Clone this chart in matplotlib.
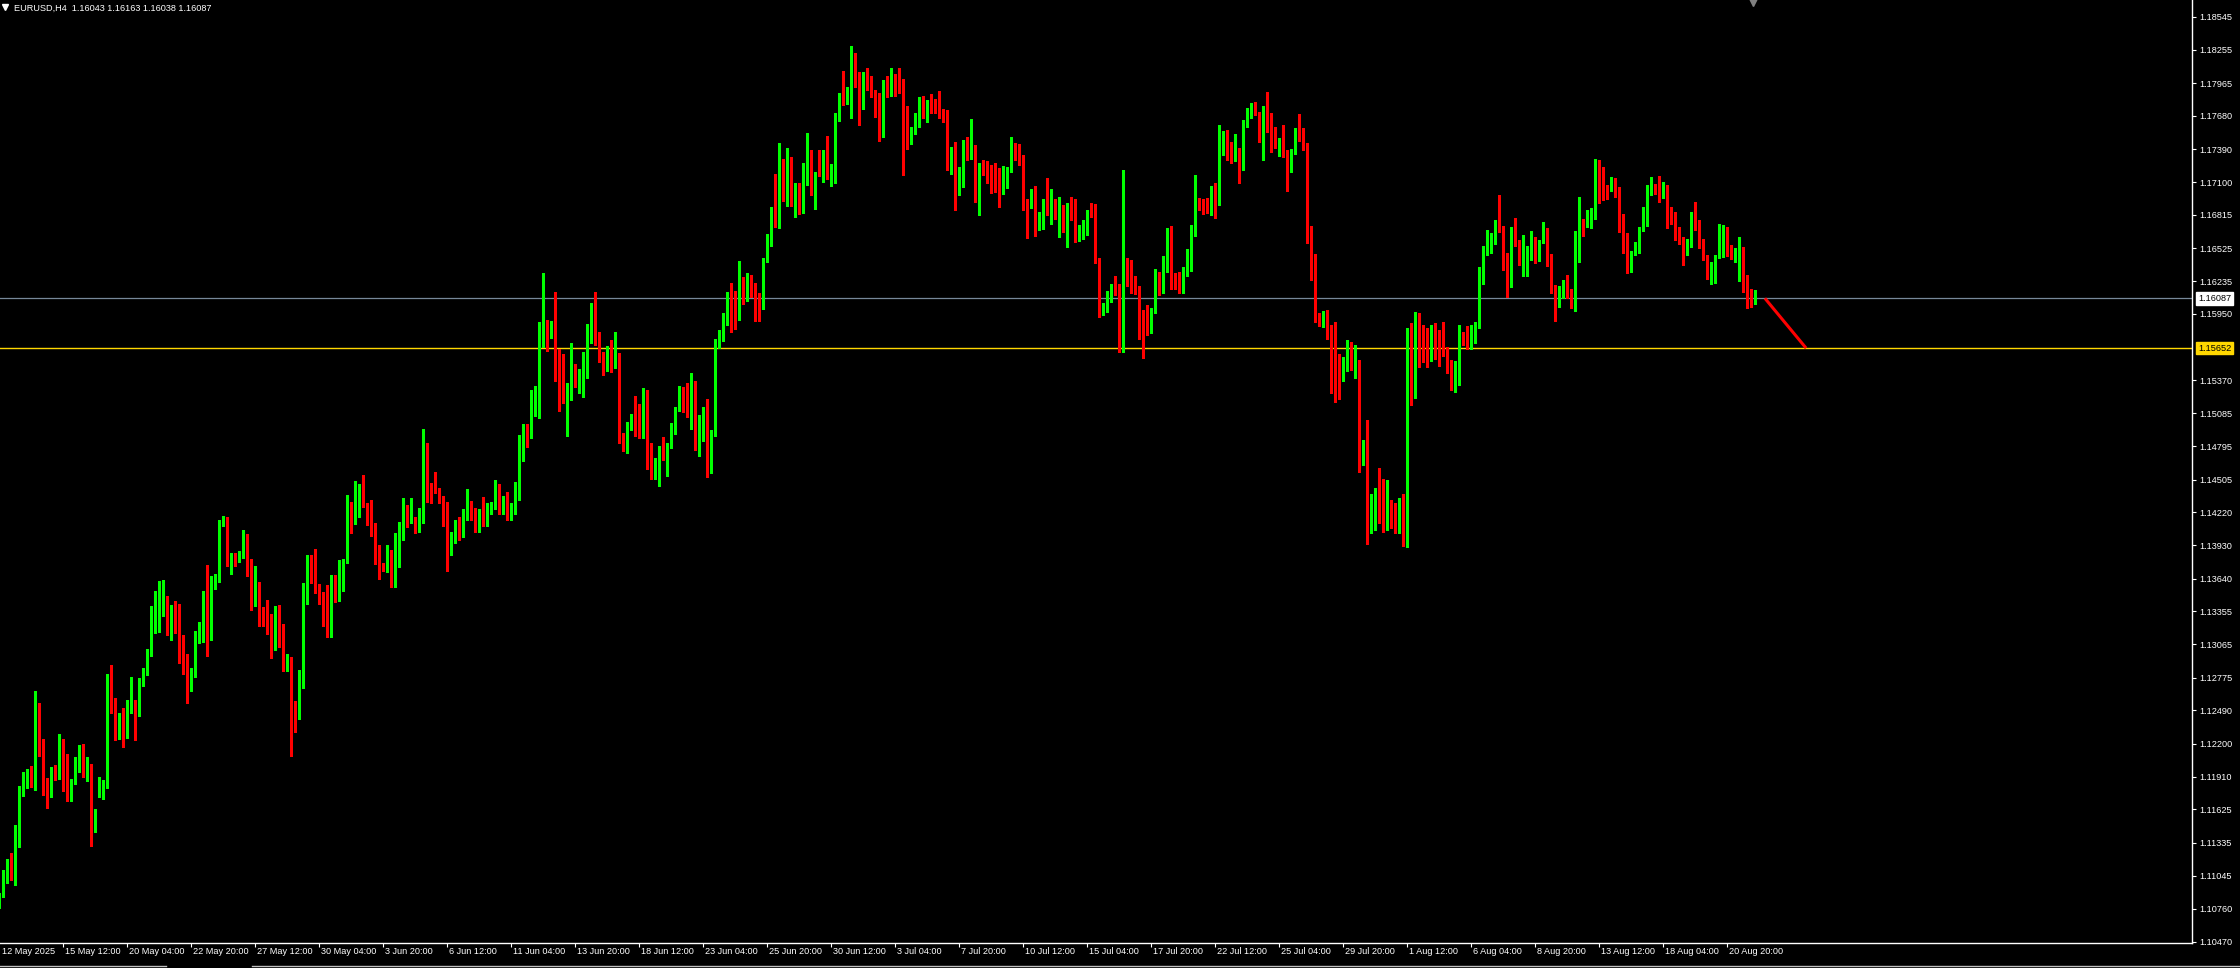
import numpy as np
import matplotlib
matplotlib.use("Agg")
import matplotlib.pyplot as plt
from matplotlib.transforms import blended_transform_factory, ScaledTranslation
from matplotlib.lines import Line2D

symbol = "EURUSD,H4"

opens = [
    1.10782, 1.10878, 1.11062, 1.11105, 1.11062, 1.11353, 1.11760, 1.11844, 1.11882, 1.11853,
    1.12528, 1.12196, 1.11891, 1.11743, 1.11946, 1.11926, 1.12034, 1.12013, 1.11708, 1.11853,
    1.12022, 1.12150, 1.11935, 1.12004, 1.11446, 1.11743, 1.11751, 1.11839, 1.12799, 1.12514,
    1.12290, 1.12426, 1.12377, 1.12537, 1.12557, 1.12450, 1.12726, 1.12805, 1.12971, 1.13314,
    1.13343, 1.13360, 1.13483, 1.13279, 1.13375, 1.13343, 1.12950, 1.12825, 1.12674, 1.12790,
    1.13133, 1.13206, 1.13497, 1.13139, 1.13593, 1.13663, 1.14123, 1.14172, 1.13788, 1.13823,
    1.13797, 1.13823, 1.13954, 1.13785, 1.13483, 1.13585, 1.13331, 1.13288, 1.13168, 1.13133,
    1.13343, 1.13099, 1.12918, 1.12924, 1.12508, 1.12426, 1.12778, 1.13512, 1.13768, 1.13672,
    1.13550, 1.13518, 1.13256, 1.13163, 1.13576, 1.13483, 1.13698, 1.13780, 1.14233, 1.14204,
    1.14213, 1.14396, 1.14283, 1.14222, 1.14123, 1.13876, 1.13774, 1.13715, 1.13855, 1.13614,
    1.13826, 1.13983, 1.14245, 1.14152, 1.14161, 1.14059, 1.14181, 1.14807, 1.14428, 1.14428,
    1.14420, 1.14350, 1.14196, 1.13899, 1.14000, 1.14100, 1.14020, 1.14200, 1.14300, 1.14200,
    1.14100, 1.14220, 1.14150, 1.14250, 1.14300, 1.14420, 1.14250, 1.14300, 1.14200, 1.14250,
    1.14355, 1.14690, 1.14972, 1.14873, 1.15176, 1.15272, 1.15717, 1.15854, 1.15746, 1.15868,
    1.15478, 1.15292, 1.15219, 1.15219, 1.15484, 1.15286, 1.15315, 1.15557, 1.15839, 1.16008,
    1.15775, 1.15600, 1.15534, 1.15571, 1.15557, 1.15583, 1.14856, 1.14800, 1.14960, 1.15039,
    1.15033, 1.14873, 1.14937, 1.14812, 1.14524, 1.14553, 1.14754, 1.14719, 1.14786, 1.14908,
    1.15120, 1.15272, 1.15272, 1.15176, 1.15321, 1.14783, 1.14917, 1.15132, 1.14710, 1.14885,
    1.15688, 1.15731, 1.15903, 1.16107, 1.16092, 1.15906, 1.16255, 1.16081, 1.16281, 1.16188,
    1.16014, 1.15993, 1.16412, 1.16546, 1.16858, 1.16837, 1.17250, 1.17163, 1.17242, 1.16954,
    1.17012, 1.16878, 1.17085, 1.17274, 1.17009, 1.17274, 1.17192, 1.17256, 1.17184, 1.17201,
    1.17643, 1.17818, 1.17795, 1.17847, 1.18132, 1.18016, 1.17818, 1.18027, 1.17928, 1.17870,
    1.17783, 1.17591, 1.17949, 1.17940, 1.18036, 1.17958, 1.17926, 1.17731, 1.17533, 1.17556,
    1.17585, 1.17832, 1.17771, 1.17789, 1.17748, 1.17789, 1.17716, 1.17701, 1.17329, 1.17346,
    1.17053, 1.17067, 1.17381, 1.17338, 1.17416, 1.16895, 1.17242, 1.17207, 1.17164, 1.17149,
    1.17129, 1.17024, 1.17068, 1.17199, 1.17408, 1.17382, 1.17312, 1.16931, 1.16878, 1.17012,
    1.16736, 1.16771, 1.16945, 1.16873, 1.16931, 1.16675, 1.16844, 1.16683, 1.16910, 1.16814,
    1.16617, 1.16625, 1.16683, 1.16849, 1.16849, 1.16430, 1.15962, 1.15979, 1.16131, 1.16195,
    1.16151, 1.15729, 1.16413, 1.16358, 1.16270, 1.16168, 1.15904, 1.15854, 1.15840, 1.15962,
    1.16282, 1.16166, 1.16328, 1.16683, 1.16267, 1.16218, 1.16160, 1.16328, 1.16442, 1.16640,
    1.16902, 1.16910, 1.16878, 1.16858, 1.17053, 1.17033, 1.17446, 1.17490, 1.17367, 1.17295,
    1.17359, 1.17251, 1.17586, 1.17679, 1.17746, 1.17708, 1.17513, 1.17711, 1.17693, 1.17460,
    1.17420, 1.17460, 1.17347, 1.17216, 1.17359, 1.17556, 1.17519, 1.17396, 1.16663, 1.16334,
    1.15918, 1.15874, 1.15906, 1.15787, 1.15767, 1.15455, 1.15409, 1.15461, 1.15636, 1.15484,
    1.15513, 1.14684, 1.14798, 1.14044, 1.14303, 1.14361, 1.14326, 1.14099, 1.14195, 1.14160,
    1.14058, 1.14312, 1.14006, 1.15694, 1.15257, 1.15889, 1.15714, 1.15694, 1.15642, 1.15758,
    1.15729, 1.15674, 1.15636, 1.15481, 1.15412, 1.15441, 1.15775, 1.15738, 1.15659, 1.15775,
    1.15834, 1.16343, 1.16480, 1.16561, 1.16567, 1.16753, 1.16707, 1.16430, 1.16325, 1.16654,
    1.16567, 1.16392, 1.16398, 1.16474, 1.16587, 1.16421, 1.16581, 1.16689, 1.16413, 1.16194,
    1.16101, 1.16159, 1.16189, 1.16130, 1.16058, 1.16509, 1.16727, 1.16718, 1.16765, 1.16785,
    1.17280, 1.17044, 1.17044, 1.17032, 1.17120, 1.17009, 1.16814, 1.16500, 1.16363, 1.16485,
    1.16517, 1.16704, 1.16867, 1.17018, 1.17041, 1.17129, 1.17027, 1.17053, 1.16797, 1.16779,
    1.16625, 1.16602, 1.16474, 1.16547, 1.16794, 1.16762, 1.16544, 1.16445, 1.16267, 1.16378,
    1.16445, 1.16581, 1.16707, 1.16500, 1.16450, 1.16485, 1.16532, 1.16203, 1.16145, 1.16043,
]

highs = [
    1.10893, 1.11096, 1.11190, 1.11242, 1.11489, 1.11830, 1.11955, 1.11975, 1.12004, 1.12659,
    1.12551, 1.12237, 1.11903, 1.11999, 1.12013, 1.12284, 1.12240, 1.12109, 1.11888, 1.12086,
    1.12188, 1.12196, 1.12086, 1.12022, 1.11626, 1.11911, 1.11882, 1.12805, 1.12886, 1.12595,
    1.12464, 1.12508, 1.12581, 1.12778, 1.12581, 1.12776, 1.12857, 1.13023, 1.13401, 1.13532,
    1.13619, 1.13628, 1.13489, 1.13410, 1.13445, 1.13419, 1.13148, 1.12982, 1.12857, 1.13186,
    1.13264, 1.13535, 1.13759, 1.13666, 1.13681, 1.14152, 1.14187, 1.14181, 1.13867, 1.13861,
    1.13881, 1.14065, 1.14027, 1.13814, 1.13750, 1.13614, 1.13390, 1.13454, 1.13331, 1.13401,
    1.13410, 1.13244, 1.12982, 1.12959, 1.12572, 1.12842, 1.13599, 1.13846, 1.13846, 1.13896,
    1.13593, 1.13526, 1.13585, 1.13672, 1.13672, 1.13803, 1.13809, 1.14370, 1.14312, 1.14492,
    1.14466, 1.14545, 1.14303, 1.14327, 1.14129, 1.13934, 1.13780, 1.13934, 1.13890, 1.14041,
    1.14137, 1.14341, 1.14283, 1.14341, 1.14181, 1.14254, 1.14946, 1.14827, 1.14472, 1.14574,
    1.14434, 1.14362, 1.14312, 1.14050, 1.14150, 1.14180, 1.14250, 1.14420, 1.14320, 1.14260,
    1.14250, 1.14350, 1.14300, 1.14310, 1.14500, 1.14470, 1.14360, 1.14400, 1.14300, 1.14480,
    1.14893, 1.14989, 1.14989, 1.15286, 1.15321, 1.15880, 1.16308, 1.15897, 1.15891, 1.16142,
    1.15641, 1.15600, 1.15344, 1.15694, 1.15513, 1.15467, 1.15621, 1.15862, 1.16043, 1.16142,
    1.15795, 1.15621, 1.15670, 1.15723, 1.15793, 1.15612, 1.14908, 1.15010, 1.15077, 1.15234,
    1.15164, 1.15301, 1.15286, 1.14821, 1.14690, 1.14797, 1.14873, 1.14821, 1.14995, 1.15141,
    1.15321, 1.15309, 1.15344, 1.15432, 1.15365, 1.15068, 1.15141, 1.15211, 1.14937, 1.15729,
    1.15810, 1.15955, 1.16145, 1.16223, 1.16150, 1.16415, 1.16270, 1.16311, 1.16290, 1.16217,
    1.16136, 1.16441, 1.16648, 1.16887, 1.17172, 1.17445, 1.17303, 1.17402, 1.17323, 1.17090,
    1.17096, 1.17265, 1.17527, 1.17381, 1.17192, 1.17381, 1.17381, 1.17504, 1.17256, 1.17707,
    1.17882, 1.18071, 1.17928, 1.18289, 1.18225, 1.18065, 1.18059, 1.18094, 1.18027, 1.17905,
    1.17876, 1.17992, 1.18027, 1.18094, 1.18045, 1.18094, 1.17998, 1.17766, 1.17585, 1.17701,
    1.17847, 1.17853, 1.17818, 1.17867, 1.17824, 1.17896, 1.17742, 1.17731, 1.17410, 1.17451,
    1.17230, 1.17469, 1.17492, 1.17652, 1.17425, 1.17265, 1.17294, 1.17289, 1.17251, 1.17265,
    1.17228, 1.17242, 1.17236, 1.17498, 1.17446, 1.17434, 1.17335, 1.16951, 1.17044, 1.17068,
    1.16838, 1.16951, 1.17137, 1.17039, 1.16954, 1.16974, 1.16902, 1.16922, 1.16974, 1.16954,
    1.16727, 1.16771, 1.16858, 1.16922, 1.16910, 1.16436, 1.16049, 1.16154, 1.16212, 1.16282,
    1.16212, 1.17207, 1.16436, 1.16422, 1.16282, 1.16195, 1.15985, 1.16029, 1.16000, 1.16340,
    1.16320, 1.16457, 1.16698, 1.16718, 1.16311, 1.16320, 1.16358, 1.16515, 1.16727, 1.17164,
    1.16960, 1.16954, 1.16960, 1.17068, 1.17091, 1.17600, 1.17551, 1.17556, 1.17455, 1.17519,
    1.17396, 1.17644, 1.17746, 1.17789, 1.17798, 1.17717, 1.17769, 1.17885, 1.17708, 1.17586,
    1.17484, 1.17600, 1.17382, 1.17391, 1.17571, 1.17696, 1.17571, 1.17440, 1.16721, 1.16474,
    1.15956, 1.15976, 1.15985, 1.15854, 1.15883, 1.15601, 1.15577, 1.15723, 1.15708, 1.15679,
    1.15548, 1.14850, 1.15025, 1.14379, 1.14428, 1.14603, 1.14510, 1.14501, 1.14326, 1.14297,
    1.14341, 1.14379, 1.15825, 1.15874, 1.15965, 1.15956, 1.15854, 1.15825, 1.15854, 1.15874,
    1.15810, 1.15877, 1.15665, 1.15548, 1.15543, 1.15854, 1.15796, 1.15845, 1.15854, 1.15883,
    1.16363, 1.16544, 1.16683, 1.16654, 1.16771, 1.16989, 1.16718, 1.16480, 1.16707, 1.16785,
    1.16596, 1.16640, 1.16544, 1.16677, 1.16625, 1.16596, 1.16750, 1.16698, 1.16474, 1.16203,
    1.16194, 1.16247, 1.16290, 1.16165, 1.16677, 1.16974, 1.16776, 1.16858, 1.16872, 1.17303,
    1.17294, 1.17236, 1.17076, 1.17149, 1.17134, 1.17062, 1.16823, 1.16654, 1.16503, 1.16581,
    1.16712, 1.16887, 1.17076, 1.17149, 1.17082, 1.17155, 1.17105, 1.17076, 1.16887, 1.16843,
    1.16707, 1.16625, 1.16602, 1.16843, 1.16931, 1.16771, 1.16602, 1.16465, 1.16407, 1.16465,
    1.16736, 1.16727, 1.16712, 1.16552, 1.16523, 1.16619, 1.16538, 1.16290, 1.16165, 1.16163,
]

lows = [
    1.10762, 1.10864, 1.10980, 1.11009, 1.10966, 1.11300, 1.11743, 1.11809, 1.11824, 1.11795,
    1.12092, 1.11751, 1.11641, 1.11731, 1.11882, 1.11888, 1.11786, 1.11699, 1.11699, 1.11847,
    1.11955, 1.11911, 1.11873, 1.11306, 1.11428, 1.11731, 1.11713, 1.11809, 1.12464, 1.12231,
    1.12237, 1.12173, 1.12246, 1.12470, 1.12231, 1.12441, 1.12703, 1.12796, 1.12965, 1.13163,
    1.13174, 1.13314, 1.13148, 1.13104, 1.13163, 1.12907, 1.12808, 1.12557, 1.12662, 1.12778,
    1.13081, 1.13090, 1.12965, 1.13104, 1.13550, 1.13614, 1.14100, 1.13753, 1.13681, 1.13750,
    1.13788, 1.13817, 1.13663, 1.13366, 1.13401, 1.13230, 1.13230, 1.13157, 1.12947, 1.13017,
    1.13046, 1.12837, 1.12837, 1.12095, 1.12304, 1.12415, 1.12682, 1.13419, 1.13599, 1.13512,
    1.13419, 1.13230, 1.13128, 1.13133, 1.13439, 1.13445, 1.13532, 1.13774, 1.14041, 1.14114,
    1.14181, 1.14263, 1.14108, 1.14015, 1.13765, 1.13640, 1.13710, 1.13701, 1.13570, 1.13570,
    1.13745, 1.13977, 1.14094, 1.14129, 1.14041, 1.14047, 1.14129, 1.14312, 1.14303, 1.14391,
    1.14303, 1.14100, 1.13710, 1.13850, 1.13950, 1.13980, 1.14000, 1.14150, 1.14150, 1.14050,
    1.14050, 1.14100, 1.14100, 1.14200, 1.14250, 1.14200, 1.14200, 1.14150, 1.14150, 1.14200,
    1.14326, 1.14669, 1.14786, 1.14864, 1.15059, 1.15045, 1.15664, 1.15630, 1.15737, 1.15368,
    1.15106, 1.15176, 1.14885, 1.15199, 1.15309, 1.15257, 1.15228, 1.15394, 1.15694, 1.15679,
    1.15534, 1.15417, 1.15452, 1.15446, 1.15475, 1.14821, 1.14757, 1.14739, 1.14937, 1.14885,
    1.14864, 1.14864, 1.14597, 1.14509, 1.14506, 1.14448, 1.14675, 1.14538, 1.14777, 1.14902,
    1.15106, 1.15097, 1.15053, 1.14946, 1.14760, 1.14710, 1.14844, 1.14530, 1.14565, 1.14885,
    1.15650, 1.15717, 1.15854, 1.15795, 1.15816, 1.15897, 1.16037, 1.16066, 1.16101, 1.15891,
    1.15891, 1.15993, 1.16401, 1.16543, 1.16706, 1.16703, 1.16936, 1.16893, 1.16893, 1.16799,
    1.16823, 1.16828, 1.17076, 1.16989, 1.16866, 1.17157, 1.17105, 1.17128, 1.17070, 1.17096,
    1.17637, 1.17774, 1.17783, 1.17664, 1.17928, 1.17600, 1.17739, 1.17905, 1.17847, 1.17667,
    1.17463, 1.17498, 1.17847, 1.17853, 1.17856, 1.17876, 1.17163, 1.17390, 1.17434, 1.17521,
    1.17579, 1.17658, 1.17629, 1.17707, 1.17701, 1.17658, 1.17629, 1.17207, 1.17172, 1.16858,
    1.16989, 1.17061, 1.17294, 1.17303, 1.16930, 1.16814, 1.17163, 1.17091, 1.17009, 1.17018,
    1.16887, 1.16998, 1.17047, 1.17193, 1.17295, 1.17251, 1.16858, 1.16617, 1.16873, 1.16631,
    1.16683, 1.16689, 1.16814, 1.16736, 1.16777, 1.16619, 1.16669, 1.16538, 1.16771, 1.16582,
    1.16590, 1.16602, 1.16640, 1.16794, 1.16392, 1.15921, 1.15941, 1.15971, 1.16058, 1.16116,
    1.15621, 1.15621, 1.16195, 1.16131, 1.16125, 1.15729, 1.15563, 1.15767, 1.15787, 1.15956,
    1.16116, 1.16131, 1.16314, 1.16166, 1.16166, 1.16131, 1.16136, 1.16282, 1.16328, 1.16631,
    1.16858, 1.16820, 1.16829, 1.16814, 1.16785, 1.16902, 1.17338, 1.17295, 1.17265, 1.17286,
    1.17097, 1.17207, 1.17580, 1.17658, 1.17687, 1.17455, 1.17295, 1.17542, 1.17367, 1.17396,
    1.17330, 1.17324, 1.17027, 1.17193, 1.17347, 1.17460, 1.17382, 1.16573, 1.16247, 1.15883,
    1.15845, 1.15839, 1.15732, 1.15257, 1.15185, 1.15205, 1.15368, 1.15455, 1.15461, 1.15394,
    1.14574, 1.14632, 1.13942, 1.14035, 1.14064, 1.14122, 1.14050, 1.14064, 1.14085, 1.14041,
    1.14041, 1.13925, 1.13913, 1.15156, 1.15214, 1.15490, 1.15534, 1.15490, 1.15543, 1.15557,
    1.15496, 1.15583, 1.15438, 1.15286, 1.15272, 1.15330, 1.15679, 1.15642, 1.15642, 1.15700,
    1.15825, 1.16212, 1.16465, 1.16485, 1.16558, 1.16669, 1.16334, 1.16101, 1.16189, 1.16544,
    1.16378, 1.16282, 1.16285, 1.16421, 1.16392, 1.16416, 1.16573, 1.16369, 1.16136, 1.15889,
    1.16014, 1.16093, 1.16087, 1.16005, 1.15979, 1.16407, 1.16631, 1.16707, 1.16698, 1.16779,
    1.16922, 1.16945, 1.16951, 1.17027, 1.16968, 1.16669, 1.16480, 1.16305, 1.16320, 1.16465,
    1.16480, 1.16677, 1.16718, 1.16989, 1.16995, 1.16931, 1.16966, 1.16704, 1.16733, 1.16596,
    1.16558, 1.16378, 1.16465, 1.16538, 1.16683, 1.16523, 1.16421, 1.16253, 1.16212, 1.16218,
    1.16436, 1.16450, 1.16456, 1.16430, 1.16407, 1.16241, 1.16145, 1.16005, 1.16014, 1.16038,
]

closes = [
    1.10878, 1.11062, 1.11105, 1.11062, 1.11358, 1.11766, 1.11839, 1.11882, 1.11853, 1.12522,
    1.12196, 1.11882, 1.11737, 1.11935, 1.11926, 1.12022, 1.12007, 1.11708, 1.11876, 1.12034,
    1.12162, 1.11935, 1.12004, 1.11446, 1.11614, 1.11760, 1.11847, 1.12799, 1.12499, 1.12290,
    1.12415, 1.12377, 1.12546, 1.12554, 1.12450, 1.12741, 1.12805, 1.12982, 1.13323, 1.13352,
    1.13366, 1.13483, 1.13270, 1.13375, 1.13323, 1.12936, 1.12825, 1.12668, 1.12790, 1.13148,
    1.13227, 1.13497, 1.13139, 1.13608, 1.13649, 1.14129, 1.14172, 1.13788, 1.13823, 1.13809,
    1.13823, 1.13954, 1.13780, 1.13483, 1.13585, 1.13323, 1.13279, 1.13168, 1.13139, 1.13331,
    1.13087, 1.12907, 1.12930, 1.12502, 1.12426, 1.12784, 1.13518, 1.13768, 1.13657, 1.13541,
    1.13512, 1.13244, 1.13163, 1.13576, 1.13468, 1.13698, 1.13794, 1.14233, 1.14181, 1.14225,
    1.14391, 1.14268, 1.14216, 1.14114, 1.13876, 1.13774, 1.13727, 1.13855, 1.13614, 1.13832,
    1.13986, 1.14245, 1.14132, 1.14161, 1.14059, 1.14187, 1.14807, 1.14423, 1.14408, 1.14414,
    1.14350, 1.14190, 1.13899, 1.14000, 1.14100, 1.14020, 1.14200, 1.14300, 1.14200, 1.14100,
    1.14220, 1.14150, 1.14250, 1.14300, 1.14420, 1.14250, 1.14300, 1.14200, 1.14250, 1.14355,
    1.14690, 1.14972, 1.14861, 1.15179, 1.15277, 1.15723, 1.15848, 1.15746, 1.15868, 1.15472,
    1.15280, 1.15228, 1.15228, 1.15484, 1.15321, 1.15321, 1.15563, 1.15845, 1.16008, 1.15766,
    1.15586, 1.15534, 1.15571, 1.15557, 1.15583, 1.14850, 1.14800, 1.14960, 1.15039, 1.15024,
    1.14873, 1.14952, 1.14800, 1.14524, 1.14559, 1.14754, 1.14719, 1.14786, 1.14917, 1.15126,
    1.15272, 1.15257, 1.15176, 1.15321, 1.14783, 1.14917, 1.15132, 1.14710, 1.14902, 1.15688,
    1.15746, 1.15906, 1.16107, 1.16086, 1.15906, 1.16255, 1.16057, 1.16281, 1.16182, 1.15993,
    1.15993, 1.16421, 1.16543, 1.16858, 1.16837, 1.17250, 1.17163, 1.17242, 1.16945, 1.17012,
    1.16878, 1.17090, 1.17274, 1.17009, 1.17186, 1.17192, 1.17256, 1.17184, 1.17207, 1.17649,
    1.17800, 1.17795, 1.17859, 1.18132, 1.18013, 1.17818, 1.18016, 1.17928, 1.17862, 1.17725,
    1.17585, 1.17949, 1.17934, 1.18036, 1.17949, 1.17914, 1.17725, 1.17533, 1.17565, 1.17591,
    1.17832, 1.17766, 1.17789, 1.17739, 1.17722, 1.17701, 1.17707, 1.17329, 1.17346, 1.17061,
    1.17076, 1.17381, 1.17338, 1.17416, 1.17067, 1.17242, 1.17172, 1.17158, 1.17140, 1.17120,
    1.17024, 1.17085, 1.17199, 1.17408, 1.17376, 1.17300, 1.16922, 1.16887, 1.17012, 1.16736,
    1.16780, 1.16945, 1.16864, 1.16931, 1.16916, 1.16844, 1.16683, 1.16910, 1.16806, 1.16617,
    1.16631, 1.16689, 1.16849, 1.16841, 1.16422, 1.15962, 1.15985, 1.16131, 1.16203, 1.16145,
    1.15717, 1.16413, 1.16320, 1.16270, 1.16166, 1.15904, 1.15848, 1.15840, 1.15956, 1.16282,
    1.16166, 1.16334, 1.16683, 1.16256, 1.16218, 1.16154, 1.16334, 1.16445, 1.16649, 1.16902,
    1.16881, 1.16864, 1.16858, 1.17053, 1.17039, 1.17460, 1.17460, 1.17359, 1.17295, 1.17359,
    1.17251, 1.17591, 1.17679, 1.17746, 1.17702, 1.17513, 1.17711, 1.17687, 1.17440, 1.17420,
    1.17460, 1.17338, 1.17216, 1.17367, 1.17556, 1.17519, 1.17391, 1.16654, 1.16326, 1.15907,
    1.15875, 1.15906, 1.15775, 1.15767, 1.15447, 1.15409, 1.15461, 1.15636, 1.15484, 1.15513,
    1.14684, 1.14806, 1.14058, 1.14312, 1.14361, 1.14320, 1.14108, 1.14195, 1.14152, 1.14064,
    1.14312, 1.14006, 1.15688, 1.15257, 1.15941, 1.15708, 1.15694, 1.15642, 1.15758, 1.15723,
    1.15650, 1.15630, 1.15470, 1.15412, 1.15438, 1.15775, 1.15714, 1.15659, 1.15781, 1.15845,
    1.16352, 1.16480, 1.16558, 1.16576, 1.16753, 1.16692, 1.16421, 1.16320, 1.16648, 1.16558,
    1.16392, 1.16407, 1.16480, 1.16587, 1.16398, 1.16587, 1.16689, 1.16407, 1.16189, 1.16101,
    1.16145, 1.16189, 1.16130, 1.16058, 1.16517, 1.16727, 1.16718, 1.16771, 1.16785, 1.17286,
    1.17032, 1.17032, 1.17032, 1.17129, 1.17003, 1.16806, 1.16488, 1.16363, 1.16494, 1.16529,
    1.16704, 1.16878, 1.17024, 1.17041, 1.17027, 1.17027, 1.17053, 1.16791, 1.16771, 1.16619,
    1.16590, 1.16480, 1.16552, 1.16794, 1.16756, 1.16538, 1.16430, 1.16267, 1.16386, 1.16450,
    1.16587, 1.16718, 1.16465, 1.16450, 1.16491, 1.16532, 1.16197, 1.16145, 1.16029, 1.16087,
]

price_ticks = [1.18545, 1.18255, 1.17965, 1.17680, 1.17390, 1.17100, 1.16815, 1.16525,
               1.16235, 1.15950, 1.15370, 1.15085, 1.14795, 1.14505, 1.14220, 1.13930,
               1.13640, 1.13355, 1.13065, 1.12775, 1.12490, 1.12200, 1.11910, 1.11625,
               1.11335, 1.11045, 1.10760, 1.10470]

time_labels = ["12 May 2025", "15 May 12:00", "20 May 04:00", "22 May 20:00", "27 May 12:00",
               "30 May 04:00", "3 Jun 20:00", "6 Jun 12:00", "11 Jun 04:00", "13 Jun 20:00",
               "18 Jun 12:00", "23 Jun 04:00", "25 Jun 20:00", "30 Jun 12:00", "3 Jul 04:00",
               "7 Jul 20:00", "10 Jul 12:00", "15 Jul 04:00", "17 Jul 20:00", "22 Jul 12:00",
               "25 Jul 04:00", "29 Jul 20:00", "1 Aug 12:00", "6 Aug 04:00", "8 Aug 20:00",
               "13 Aug 12:00", "18 Aug 04:00", "20 Aug 20:00"]
bars_per_label = 16

level_price = 1.15652
trend_x = [441.4, 451.7]
trend_y = [1.16087, 1.15652]

FONT = "Liberation Sans"
GREEN = "#00ff00"
RED = "#ff0000"
GOLD = "#ffd700"
GRAY = "#778899"

o = np.array(opens)
h = np.array(highs)
l = np.array(lows)
c = np.array(closes)
x = np.arange(len(c))
bid = c[-1]

fig = plt.figure(figsize=(22.4, 9.68), dpi=100, facecolor="black")
ax = fig.add_axes([0, 25 / 968, 2192 / 2240, 943 / 968], facecolor="black")
ax.set_xlim(0.175, 548.175)
ax.set_ylim(1.10459, 1.18691)

up = c >= o
cols = np.where(up, GREEN, RED)
ax.vlines(x, l, h, colors=cols, linewidth=0.75, antialiased=False, zorder=3)
body = np.maximum(np.abs(c - o), 0.00009)
ax.bar(x, body, bottom=np.minimum(o, c), width=0.75, color=cols,
       linewidth=0, antialiased=False, zorder=4)

ax.axhline(bid, color=GRAY, lw=0.9, zorder=2)
ax.axhline(level_price, color=GOLD, lw=1.0, zorder=2)
ax.plot(trend_x, trend_y, color=RED, lw=2.2, solid_capstyle="butt", zorder=5)

for s in ["top", "left"]:
    ax.spines[s].set_visible(False)
for s in ["right", "bottom"]:
    ax.spines[s].set_color("white")
    ax.spines[s].set_linewidth(1.0)

# price scale
ax.yaxis.tick_right()
ax.set_yticks(price_ticks)
ax.set_yticklabels([f"{p:.5f}" for p in price_ticks], fontfamily=FONT)
ax.tick_params(axis="y", colors="white", labelsize=6.6, length=3, width=0.8, pad=2)

yb = blended_transform_factory(ax.transAxes, ax.transData)
for val, fc in [(bid, "white"), (level_price, GOLD)]:
    ax.text(1.0 + 6 / 2192, val, f"{val:.5f}", transform=yb, ha="left", va="center",
            fontsize=6.6, fontfamily=FONT, color="black", clip_on=False, zorder=10,
            bbox=dict(boxstyle="square,pad=0.2", fc=fc, ec=fc))

# time scale
tick_pos = [i * bars_per_label for i in range(len(time_labels))]
ax.set_xticks(tick_pos[1:])
ax.set_xticklabels([])
ax.tick_params(axis="x", colors="white", length=3, width=0.8)
xb = blended_transform_factory(ax.transData, ax.transAxes)
shift = ScaledTranslation(2 / 100, -9 / 100, fig.dpi_scale_trans)
for pos, lab in zip(tick_pos, time_labels):
    ax.text(max(pos, 0.175), 0, lab, transform=xb + shift, ha="left", va="center",
            fontsize=6.6, fontfamily=FONT, color="white", clip_on=False)

# header
fig.text(14 / 2240, 1 - 8 / 968,
         f"{symbol}  {o[-1]:.5f} {h[-1]:.5f} {l[-1]:.5f} {c[-1]:.5f}",
         color="white", fontsize=6.6, fontfamily=FONT, va="center", ha="left")
fig.add_artist(Line2D([5 / 2240], [1 - 7 / 968], marker="v", markersize=4.5,
                      color="white", transform=fig.transFigure))
fig.add_artist(Line2D([1753 / 2240], [1 - 2 / 968], marker="v", markersize=6,
                      color="#808080", transform=fig.transFigure))
fig.add_artist(Line2D([0, 166 / 2240], [2 / 968, 2 / 968], color="#c0c0c0", lw=1,
                      transform=fig.transFigure))
fig.add_artist(Line2D([252 / 2240, 1], [2 / 968, 2 / 968], color="#c0c0c0", lw=1,
                      transform=fig.transFigure))

fig.savefig("out.png", dpi=100, facecolor="black")
